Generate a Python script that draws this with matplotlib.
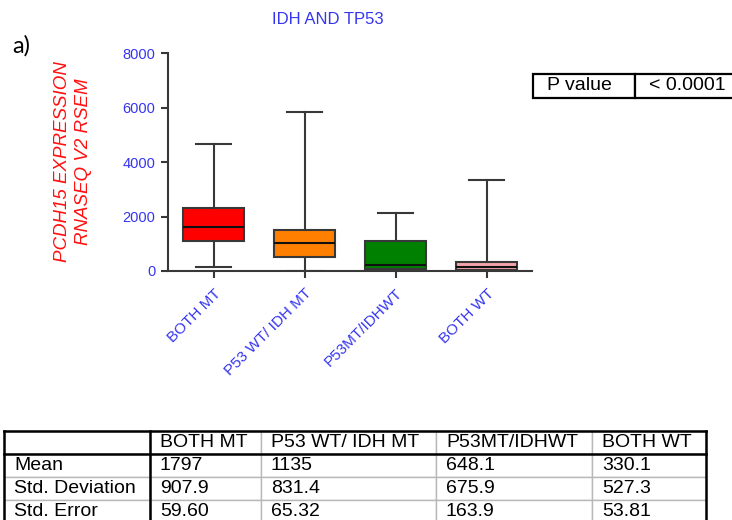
import matplotlib
matplotlib.use("Agg")
import matplotlib.pyplot as plt

# ---- data -------------------------------------------------------------
groups = ["BOTH MT", "P53 WT/ IDH MT", "P53MT/IDHWT", "BOTH WT"]
whisk_lo = [135, 0, 0, 0]
q1 = [1115, 526, 75, 35]
median = [1630, 1018, 220, 158]
q3 = [2305, 1507, 1115, 342]
whisk_hi = [4645, 5840, 2120, 3345]
box_colors = ["#ff0000", "#ff8000", "#008000", "#f4a3aa"]

y_ticks = [0, 2000, 4000, 6000, 8000]

stat_rows = ["Mean", "Std. Deviation", "Std. Error"]
mean_vals = ["1797", "1135", "648.1", "330.1"]
sd_vals = ["907.9", "831.4", "675.9", "527.3"]
se_vals = ["59.60", "65.32", "163.9", "53.81"]

p_label = "P value"
p_text = "< 0.0001"

title = "IDH AND TP53"
ylabel = "PCDH15 EXPRESSION\nRNASEQ V2 RSEM"
panel = "a)"

# ---- figure -----------------------------------------------------------
W, H = 732, 520
fig = plt.figure(figsize=(W / 100, H / 100), dpi=100)
plt.rcParams["font.family"] = ["Liberation Sans", "DejaVu Sans"]

blue = "#3535f0"
dark = "#383838"

def px_axes(x0, y0, x1, y1):
    """Axes from pixel box (top-left origin)."""
    return fig.add_axes([x0 / W, 1 - y1 / H, (x1 - x0) / W, (y1 - y0) / H])

ax = px_axes(168, 53, 532, 271)

stats = []
for i, name in enumerate(groups):
    stats.append(dict(label=name, whislo=whisk_lo[i], q1=q1[i], med=median[i],
                      q3=q3[i], whishi=whisk_hi[i], fliers=[]))

positions = list(range(1, len(groups) + 1))
bp = ax.bxp(stats, positions=positions, widths=0.67, patch_artist=True,
            showfliers=False, capwidths=0.39,
            boxprops=dict(edgecolor=dark, linewidth=1.5),
            medianprops=dict(color="#101010", linewidth=1.5),
            whiskerprops=dict(color=dark, linewidth=1.5),
            capprops=dict(color=dark, linewidth=1.5))
for patch, c in zip(bp["boxes"], box_colors):
    patch.set_facecolor(c)

ax.set_xlim(0.5, 4.5)
ax.set_ylim(0, 8000)
ax.set_yticks(y_ticks)
ax.set_yticklabels([str(v) for v in y_ticks], color=blue, fontsize=10.5)
ax.set_xticks(positions)
ax.set_xticklabels(groups, rotation=45, ha="right", rotation_mode="anchor",
                   color=blue, fontsize=11)
ax.tick_params(axis="both", direction="out", length=5, width=1.5, colors=dark)
ax.tick_params(axis="y", labelcolor=blue, pad=4)
ax.tick_params(axis="x", labelcolor=blue, pad=6)
for s in ("top", "right"):
    ax.spines[s].set_visible(False)
for s in ("left", "bottom"):
    ax.spines[s].set_color(dark)
    ax.spines[s].set_linewidth(1.5)
ax.set_facecolor("none")

fig.text(328 / W, 1 - 20 / H, title, color=blue, fontsize=12,
         ha="center", va="center")
fig.text(73 / W, 1 - 162 / H, ylabel, color="#ff1010", fontsize=13.5,
         style="italic", rotation=90, ha="center", va="center",
         multialignment="center", linespacing=1.25)
fig.text(12 / W, 1 - 46 / H, panel, fontsize=17, family=["Lato", "DejaVu Sans"],
         ha="left", va="center")

# ---- P value box ------------------------------------------------------
pax = px_axes(533, 74.3, 743, 97.7)
pax.axis("off")
ptab = pax.table(cellText=[[p_label, p_text]], cellLoc="left",
                 colWidths=[102 / 210, 108 / 210], bbox=[0, 0, 1, 1])
ptab.auto_set_font_size(False)
ptab.set_fontsize(14)
for (r, c), cell in ptab.get_celld().items():
    cell.set_edgecolor("black")
    cell.set_linewidth(1.6)
    cell.PAD = 14 / (102 if c == 0 else 108)

# ---- summary table ----------------------------------------------------
col_px = [146, 111, 175, 156, 114]
tot = sum(col_px)
tax = px_axes(4, 431, 4 + tot, 523)
tax.axis("off")
tax.set_xlim(0, 1)
tax.set_ylim(0, 1)
cells = [[""] + groups,
         [stat_rows[0]] + mean_vals,
         [stat_rows[1]] + sd_vals,
         [stat_rows[2]] + se_vals]
tab = tax.table(cellText=cells, cellLoc="left",
                colWidths=[w / tot for w in col_px], bbox=[0, 0, 1, 1])
tab.auto_set_font_size(False)
tab.set_fontsize(14)
for (r, c), cell in tab.get_celld().items():
    cell.set_edgecolor("#b8b8b8")
    cell.set_linewidth(1.0)
    cell.PAD = 10 / col_px[c]

# heavy rules around the header and the row-label column
x_first = col_px[0] / tot
y_head = 3 / 4
lw = 1.8
for xs, ys in [([0, 1], [1, 1]), ([0, 1], [y_head, y_head]),
               ([0, 0], [0, 1]), ([1, 1], [0, 1]),
               ([x_first, x_first], [0, 1])]:
    tax.plot(xs, ys, color="black", linewidth=lw, solid_capstyle="projecting",
             clip_on=False)

fig.savefig("out.png", dpi=100)
